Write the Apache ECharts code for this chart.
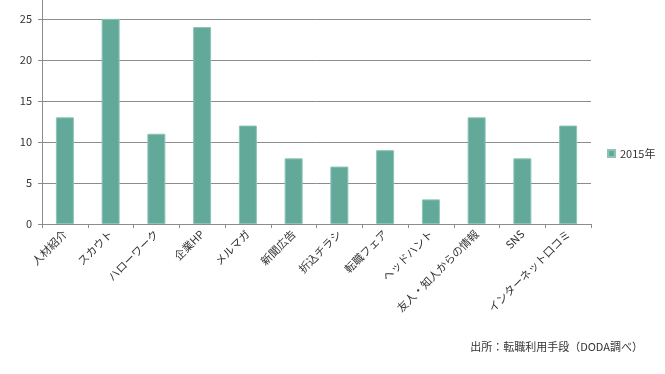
<!DOCTYPE html>
<html><head><meta charset="utf-8">
<script src="https://cdn.jsdelivr.net/npm/echarts@6/dist/echarts.min.js"></script>
<style>html,body{margin:0;padding:0;background:#fff}#c{width:665px;height:374px}</style>
</head><body><div id="c"></div>
<script>
const categories = ['人材紹介','スカウト','ハローワーク','企業HP','メルマガ','新聞広告','折込チラシ','転職フェア','ヘッドハント','友人・知人からの情報','SNS','インターネット口コミ'];
const values2015 = [13, 25, 11, 24, 12, 8, 7, 9, 3, 13, 8, 12];
const seriesName = '2015年';
const sourceNote = '出所：転職利用手段（DODA調べ）';

const font = '"Noto Sans CJK JP", "Noto Sans", sans-serif';
const chart = echarts.init(document.getElementById('c'));
chart.setOption({
  animation: false,
  textStyle: { fontFamily: font },
  grid: { left: 42, right: 74, top: 0, bottom: 150, containLabel: false },
  legend: {
    data: [seriesName], orient: 'vertical', left: 602, top: 143,
    itemWidth: 7, itemHeight: 7, itemGap: 4, icon: 'rect',
    textStyle: { fontSize: 11, color: '#333', fontFamily: font }
  },
  graphic: [{
    type: 'text', right: 22, top: 341,
    style: { text: sourceNote, fontSize: 11, fill: '#333', fontFamily: font }
  }],
  xAxis: {
    type: 'category', data: categories,
    axisLine: { lineStyle: { color: '#8c8c8c', width: 1 } },
    axisTick: { show: true, length: 4, lineStyle: { color: '#8c8c8c' } },
    axisLabel: { rotate: 45, fontSize: 11, color: '#333', margin: 8, interval: 0, fontFamily: font }
  },
  yAxis: {
    type: 'value', min: 0, max: 27.3, interval: 5,
    axisLine: { show: true, lineStyle: { color: '#8c8c8c' } },
    axisTick: { show: true, length: 4, lineStyle: { color: '#8c8c8c' } },
    splitLine: { showMaxLine: false, lineStyle: { color: '#8c8c8c', width: 1 } },
    axisLabel: { showMaxLabel: false, fontSize: 11, color: '#333', margin: 10, fontFamily: font }
  },
  series: [{
    name: seriesName, type: 'bar', data: values2015, barWidth: 18,
    itemStyle: { color: '#62a999', borderColor: '#8cc5b8', borderWidth: 1 }
  }]
});
</script></body></html>
